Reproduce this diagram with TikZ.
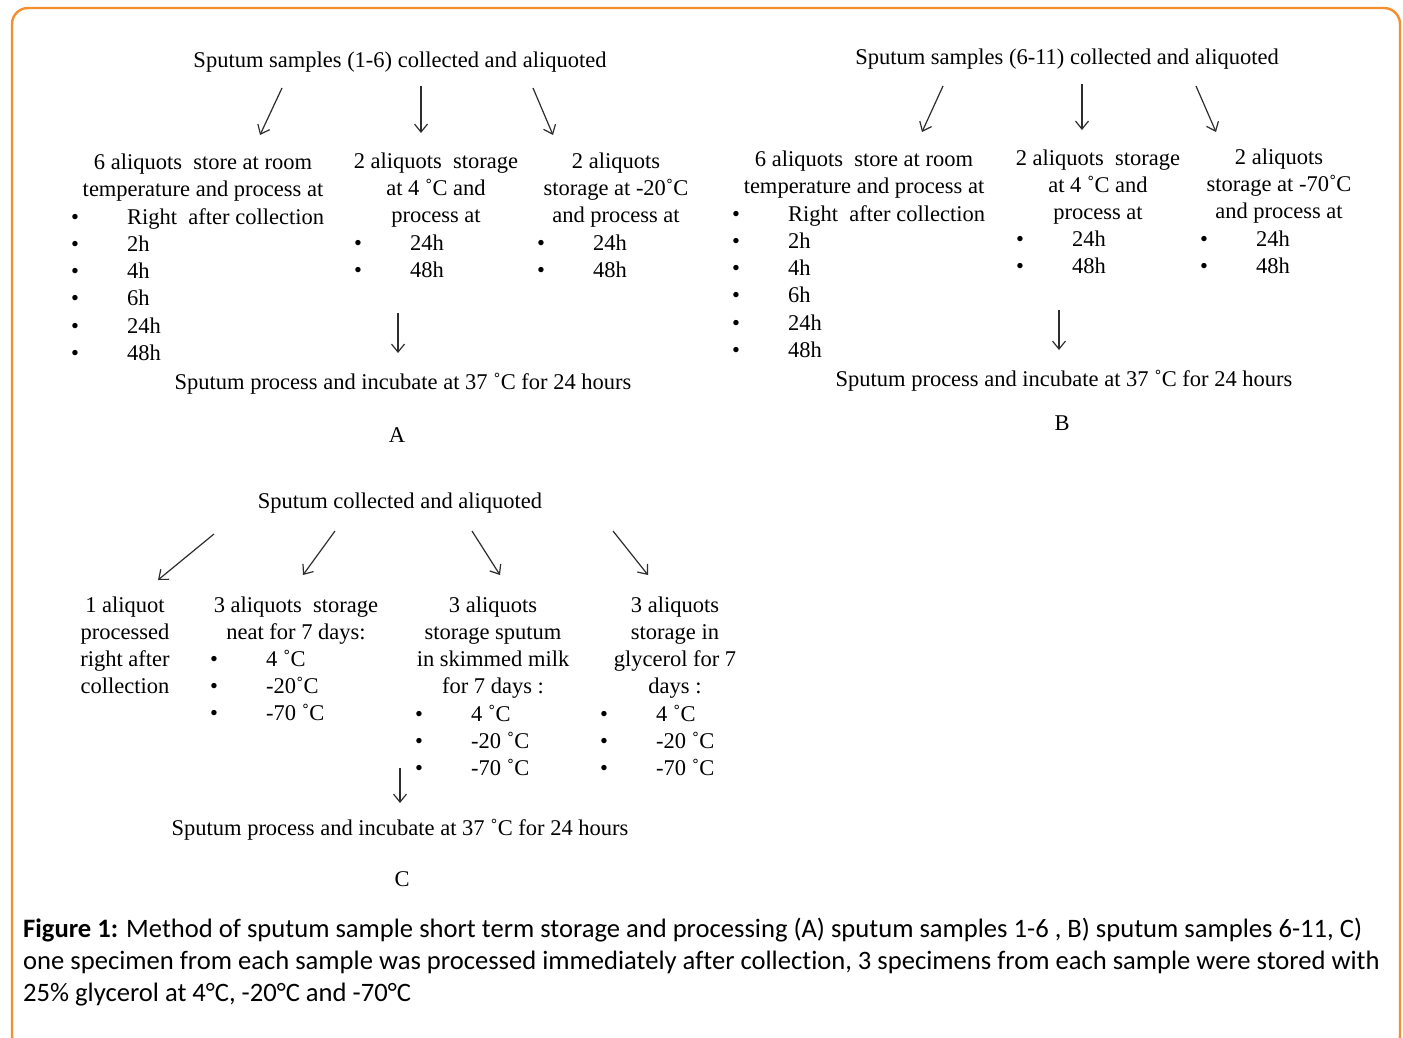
\documentclass[tikz,border=0pt]{standalone}
\usepackage{fontspec}
\setmainfont{Liberation Serif}
\newfontfamily\capfont[Ligatures=NoCommon]{Carlito}
\usetikzlibrary{arrows.meta}
\definecolor{frameorg}{RGB}{246,142,45}
\definecolor{arrgray}{RGB}{45,45,45}
\newcommand\diagfont{\fontsize{22.5}{27.2}\selectfont}
\newcommand\hd[1]{\begin{tabular}{@{}c@{}}#1\end{tabular}}
\newcommand\bl[1]{\begin{tabular}{@{}p{56pt}@{}l@{}}#1\end{tabular}}
\newcommand\bi[1]{\textbullet & #1\\}

\begin{document}
\begin{tikzpicture}[x=1pt,y=-1pt,
  txt/.style={inner sep=0pt,font=\diagfont},
  onetxt/.style={txt,anchor=mid},
  headtxt/.style={txt,anchor=north},
  listtxt/.style={txt,anchor=north west},
  arr/.style={-{Straight Barb[length=8pt,width=13pt]},line width=1.2pt,draw=arrgray}]
  \clip (0,0) rectangle (1403,1038);
  \fill[white] (0,0) rectangle (1403,1038);
  \draw[frameorg,line width=2.4pt,rounded corners=16pt] (12,8) rectangle (1400,1052);

  % Panel A
  \node[onetxt] (atop) at (400,65) {Sputum samples (1-6) collected and aliquoted};
  \node[headtxt] (a1h) at (203,150) {\hd{6 aliquots\ \ store at room\\temperature and process at}};
  \node[listtxt] (a1l) at (71,205) {\bl{\bi{Right\ \ after collection}\bi{2h}\bi{4h}\bi{6h}\bi{24h}\bi{48h}}};
  \node[headtxt] (a2h) at (436,149) {\hd{2 aliquots\ \ storage\\at 4 ˚C and\\process at}};
  \node[listtxt] (a2l) at (354,231) {\bl{\bi{24h}\bi{48h}}};
  \node[headtxt] (a3h) at (616,149) {\hd{2 aliquots\\storage at -20˚C\\and process at}};
  \node[listtxt] (a3l) at (537,231) {\bl{\bi{24h}\bi{48h}}};
  \node[onetxt] (aend) at (403,387) {Sputum process and incubate at 37 ˚C for 24 hours};
  \node[onetxt] (alab) at (397,440) {A};
  \coordinate (a1s) at (282,88);  \coordinate (a1e) at (260,135);
  \coordinate (a2s) at (421,86);  \coordinate (a2e) at (421,133);
  \coordinate (a3s) at (533,88);  \coordinate (a3e) at (553,135);
  \coordinate (a4s) at (398,313); \coordinate (a4e) at (398,353);
  \foreach \i in {1,...,4}
    \draw[arr] (a\i s) -- (a\i e);

  % Panel B
  \node[onetxt] (btop) at (1067,62) {Sputum samples (6-11) collected and aliquoted};
  \node[headtxt] (b1h) at (864,147) {\hd{6 aliquots\ \ store at room\\temperature and process at}};
  \node[listtxt] (b1l) at (732,202) {\bl{\bi{Right\ \ after collection}\bi{2h}\bi{4h}\bi{6h}\bi{24h}\bi{48h}}};
  \node[headtxt] (b2h) at (1098,146) {\hd{2 aliquots\ \ storage\\at 4 ˚C and\\process at}};
  \node[listtxt] (b2l) at (1016,227) {\bl{\bi{24h}\bi{48h}}};
  \node[headtxt] (b3h) at (1279,145) {\hd{2 aliquots\\storage at -70˚C\\and process at}};
  \node[listtxt] (b3l) at (1200,227) {\bl{\bi{24h}\bi{48h}}};
  \node[onetxt] (bend) at (1064,384) {Sputum process and incubate at 37 ˚C for 24 hours};
  \node[onetxt] (blab) at (1062,428) {B};
  \coordinate (b1s) at (943,86);   \coordinate (b1e) at (922,132);
  \coordinate (b2s) at (1082,84);  \coordinate (b2e) at (1082,130);
  \coordinate (b3s) at (1196,86);  \coordinate (b3e) at (1216,132);
  \coordinate (b4s) at (1059,310); \coordinate (b4e) at (1059,350);
  \foreach \i in {1,...,4}
    \draw[arr] (b\i s) -- (b\i e);

  % Panel C
  \node[onetxt] (ctop) at (400,506) {Sputum collected and aliquoted};
  \node[headtxt] (c1h) at (125,593) {\hd{1 aliquot\\processed\\right after\\collection}};
  \node[headtxt] (c2h) at (296,593) {\hd{3 aliquots\ \ storage\\neat for 7 days:}};
  \node[listtxt] (c2l) at (210,647) {\bl{\bi{4 ˚C}\bi{-20˚C}\bi{-70 ˚C}}};
  \node[headtxt] (c3h) at (493,593) {\hd{3 aliquots\\storage sputum\\in skimmed milk\\for 7 days :}};
  \node[listtxt] (c3l) at (415,702) {\bl{\bi{4 ˚C}\bi{-20 ˚C}\bi{-70 ˚C}}};
  \node[headtxt] (c4h) at (675,593) {\hd{3 aliquots\\storage in\\glycerol for 7\\days :}};
  \node[listtxt] (c4l) at (600,702) {\bl{\bi{4 ˚C}\bi{-20 ˚C}\bi{-70 ˚C}}};
  \node[onetxt] (cend) at (400,833) {Sputum process and incubate at 37 ˚C for 24 hours};
  \node[onetxt] (clab) at (402,884) {C};
  \coordinate (c1s) at (214,534); \coordinate (c1e) at (158,580);
  \coordinate (c2s) at (335,531); \coordinate (c2e) at (303,575);
  \coordinate (c3s) at (472,531); \coordinate (c3e) at (500,575);
  \coordinate (c4s) at (613,531); \coordinate (c4e) at (648,575);
  \coordinate (c5s) at (400,768); \coordinate (c5e) at (400,803);
  \foreach \i in {1,...,5}
    \draw[arr] (c\i s) -- (c\i e);

  % caption
  \node[anchor=north west,inner sep=0pt,font=\capfont\fontsize{26.6}{32}\selectfont] (cap) at (23,915)
    {\begin{tabular}{@{}l@{}}
      \textbf{Figure 1:} Method of sputum sample short term storage and processing (A) sputum samples 1-6 , B) sputum samples 6-11, C)\\
      one specimen from each sample was processed immediately after collection, 3 specimens from each sample were stored with\\
      25\% glycerol at 4°{}C, -20°{}C and -70°{}C
    \end{tabular}};
\end{tikzpicture}
\end{document}
